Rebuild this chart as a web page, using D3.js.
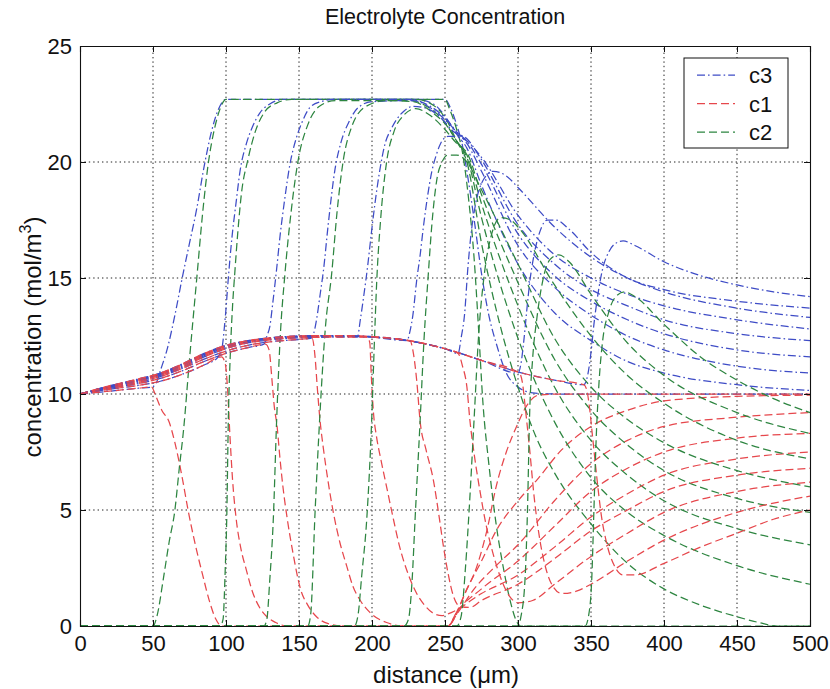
<!DOCTYPE html>
<html>
<head>
<meta charset="utf-8">
<script src="https://cdn.jsdelivr.net/npm/d3@7"></script>
<style>
  body { margin: 0; background: #fff; }
  svg { display: block; }
  text { font-family: "Liberation Sans", Arial, Helvetica, sans-serif; fill: #111; }
</style>
</head>
<body>
<svg id="chart" width="830" height="689"></svg>
<script>
// Axis ticks
const xTicks = [0, 50, 100, 150, 200, 250, 300, 350, 400, 450, 500];
const yTicks = [0, 5, 10, 15, 20, 25];

// Legend order (as plotted)
const seriesNames = ["c3", "c1", "c2"];

// c3 profiles, one per time snapshot: [distance (um), concentration (mol/m^3)]
const c3 = [
  [[0,10],[20,10.12],[40,10.25],[49,10.3],[52,10.45],[55,11],[60,12],[65,13.4],[70,15],[75,16.5],[80,18],[85,19.8],[90,21.3],[95,22.3],[100,22.7],[250,22.7],[254,22.3],[258,21.6],[262,20.7],[266,19.2],[270,17.5],[275,15.2],[280,13.4],[285,12.2],[292,10.9],[300,10.3],[310,10.05],[325,10],[500,10]],
  [[0,10],[20,10.2],[40,10.37],[55,10.55],[70,10.85],[85,11.25],[94,11.55],[97,11.9],[99.5,13.3],[101.6,15.0],[104,16.7],[107,18.3],[109.6,19.6],[114,20.8],[118,21.5],[123,22.1],[130,22.5],[140,22.7],[230,22.7],[242,22.5],[252,21.8],[258,21.2],[265,20.6],[275,19.0],[300,15.6],[325,13.5],[350,12.3],[375,11.4],[400,10.9],[450,10.4],[500,10.15]],
  [[0,10],[20,10.24],[40,10.45],[55,10.67],[70,11.0],[85,11.4],[100,11.75],[115,12.0],[126,12.15],[128,12.5],[130,12.9],[132,13.9],[134.7,15.4],[137,16.8],[140,18.3],[143.8,19.9],[148,21.0],[152,21.7],[157.5,22.35],[165,22.6],[175,22.7],[225,22.7],[240,22.4],[250,21.9],[258,21.3],[265,20.8],[275,19.6],[300,16.4],[325,14.6],[350,13.4],[375,12.5],[400,11.9],[450,11.2],[500,10.9]],
  [[0,10],[20,10.27],[40,10.5],[55,10.75],[70,11.1],[85,11.5],[100,11.85],[115,12.1],[130,12.25],[150,12.35],[158,12.4],[160,12.6],[162,13.2],[164.5,14.3],[166.7,15.3],[170,17.3],[174.7,19.7],[179,20.9],[184,21.7],[190.6,22.35],[200,22.6],[228,22.65],[242,22.25],[252,21.7],[258,21.3],[265,20.9],[275,19.9],[300,16.9],[325,15.1],[350,14.0],[375,13.2],[400,12.6],[450,11.9],[500,11.6]],
  [[0,10],[20,10.29],[40,10.55],[55,10.8],[70,11.15],[85,11.6],[100,11.95],[115,12.2],[130,12.33],[150,12.42],[175,12.45],[190,12.45],[192,13.2],[194.5,14.3],[197,15.5],[199.5,16.9],[202,18.2],[205.5,19.7],[209,20.8],[213,21.4],[217,21.85],[222,22.2],[228,22.4],[238,22.3],[248,21.85],[256,21.3],[265,21.0],[275,20.1],[300,17.3],[325,15.6],[350,14.5],[375,13.8],[400,13.2],[450,12.6],[500,12.3]],
  [[0,10],[20,10.31],[40,10.58],[55,10.84],[70,11.2],[85,11.65],[100,12.0],[115,12.23],[130,12.37],[150,12.46],[175,12.5],[200,12.45],[224,12.3],[226,12.7],[228,13.4],[230.6,14.9],[233,16.0],[235,17.1],[238,18.5],[241,19.6],[244,20.3],[247,20.8],[252,21.1],[258,21.1],[265,20.9],[275,20.2],[300,17.7],[325,16.0],[350,15.0],[375,14.3],[400,13.8],[450,13.2],[500,12.8]],
  [[0,10],[20,10.33],[40,10.61],[55,10.87],[70,11.25],[85,11.7],[100,12.05],[115,12.27],[130,12.4],[150,12.48],[175,12.5],[200,12.45],[225,12.3],[250,11.95],[259,11.75],[261,12.4],[263.5,13.5],[265.5,15.3],[267.5,16.7],[271,18.2],[276,19.2],[283,19.6],[292,19.4],[300,18.9],[325,17.2],[350,15.9],[375,15.0],[400,14.4],[450,13.7],[500,13.3]],
  [[0,10],[20,10.34],[40,10.63],[55,10.89],[70,11.28],[85,11.72],[100,12.08],[115,12.29],[130,12.41],[150,12.5],[175,12.52],[200,12.47],[225,12.3],[250,11.95],[275,11.45],[300,10.9],[302,11.3],[304,12.3],[306,13.6],[308,14.8],[311,16.0],[315,17.0],[320,17.5],[326,17.5],[335,17.1],[350,16.1],[375,15.0],[400,14.5],[450,14.0],[500,13.7]],
  [[0,10],[20,10.35],[40,10.65],[55,10.9],[70,11.3],[85,11.75],[100,12.1],[115,12.3],[130,12.42],[150,12.5],[175,12.52],[200,12.47],[225,12.3],[250,11.95],[275,11.45],[300,10.95],[325,10.6],[345,10.4],[348,10.9],[350,11.8],[352,13.0],[355,14.4],[358,15.4],[362,16.1],[367,16.5],[372,16.6],[380,16.4],[400,15.7],[425,15.1],[450,14.7],[475,14.4],[500,14.2]]
];

// c1 profiles
const c1 = [
  [[0,10],[20,10.12],[40,10.25],[49,10.3],[52,9.9],[56,9.3],[61,8.8],[65,7.9],[70,6.4],[74,5.0],[79,3.5],[84,2.2],[89,1.0],[93,0.3],[97,0],[252,0],[257,0.4],[263,1.3],[272,2.6],[279,4.2],[285,6.0],[292,7.5],[299,8.6],[306,9.5],[314,9.95],[330,10],[500,10]],
  [[0,10],[20,10.2],[40,10.37],[55,10.55],[70,10.85],[85,11.25],[97,11.6],[99.5,11.3],[101,10.3],[102.7,8.2],[104.5,6.3],[107,4.6],[110,3.4],[114,2.4],[118,1.5],[123,0.8],[128,0.4],[134,0.15],[142,0],[252,0],[258,0.6],[265,1.6],[275,2.8],[285,4.1],[300,5.4],[313,6.3],[330,7.6],[350,8.6],[375,9.3],[400,9.7],[450,9.9],[500,9.95]],
  [[0,10],[20,10.24],[40,10.45],[55,10.67],[70,11.0],[85,11.4],[100,11.75],[115,12.0],[127,12.15],[129.5,11.9],[131.5,10.6],[133,9.5],[135,8.6],[137,7.2],[139,6.0],[142,4.6],[146,3.1],[151,1.6],[156,0.9],[162,0.4],[170,0.1],[180,0],[252,0],[258,0.5],[270,1.6],[285,2.6],[300,3.5],[325,5.4],[350,7.0],[375,8.0],[400,8.6],[450,9.0],[500,9.2]],
  [[0,10],[20,10.27],[40,10.5],[55,10.75],[70,11.1],[85,11.5],[100,11.85],[115,12.1],[130,12.25],[150,12.35],[159,12.4],[161,11.6],[162.5,10.3],[164.5,8.8],[166.6,7.7],[170,6.2],[173.5,4.9],[178,3.6],[182.6,2.6],[187,1.7],[192,1.1],[200,0.5],[210,0.15],[222,0],[252,0],[258,0.6],[275,1.6],[300,2.8],[325,4.3],[350,5.8],[375,6.8],[400,7.5],[450,8.1],[500,8.3]],
  [[0,10],[20,10.29],[40,10.55],[55,10.8],[70,11.15],[85,11.6],[100,11.95],[115,12.2],[130,12.33],[150,12.42],[175,12.45],[197,12.45],[198.5,12.2],[199.5,10.8],[201,9.2],[203,8.2],[206,7.2],[210,6.0],[214,4.8],[219,3.4],[225,2.2],[230.6,1.4],[236,0.9],[242,0.55],[248,0.45],[255,0.6],[275,1.4],[300,2.2],[325,3.4],[350,4.7],[375,5.7],[400,6.5],[450,7.2],[500,7.5]],
  [[0,10],[20,10.31],[40,10.58],[55,10.84],[70,11.2],[85,11.65],[100,12.0],[115,12.23],[130,12.37],[150,12.46],[175,12.5],[200,12.45],[226,12.3],[228.5,11.7],[230.6,10.6],[233,8.8],[237,7.6],[242,6.3],[246,4.7],[249,3.4],[252,2.3],[255.7,1.3],[260,0.85],[267,0.8],[275,1.1],[300,1.8],[325,2.9],[350,4.1],[375,5.0],[400,5.8],[450,6.5],[500,6.8]],
  [[0,10],[20,10.33],[40,10.61],[55,10.87],[70,11.25],[85,11.7],[100,12.05],[115,12.27],[130,12.4],[150,12.48],[175,12.5],[200,12.45],[225,12.3],[250,11.95],[259,11.75],[262,11.2],[265,10.3],[267,8.9],[270,7.4],[274,5.8],[278,4.4],[283,3.1],[288,2.1],[294,1.3],[300,1.0],[310,1.1],[325,1.8],[350,3.0],[375,4.0],[400,4.9],[450,5.8],[500,6.2]],
  [[0,10],[20,10.34],[40,10.63],[55,10.89],[70,11.28],[85,11.72],[100,12.08],[115,12.29],[130,12.41],[150,12.5],[175,12.52],[200,12.47],[225,12.3],[250,11.95],[275,11.45],[301,10.9],[303,10.5],[305,9.4],[308,7.6],[311,5.6],[315,3.7],[319,2.5],[324,1.7],[330,1.4],[340,1.5],[350,1.8],[375,2.8],[400,3.7],[450,4.9],[500,5.6]],
  [[0,10],[20,10.35],[40,10.65],[55,10.9],[70,11.3],[85,11.75],[100,12.1],[115,12.3],[130,12.42],[150,12.5],[175,12.52],[200,12.47],[225,12.3],[250,11.95],[275,11.45],[300,10.95],[325,10.6],[345,10.4],[347,10.2],[349,9.4],[351,8.2],[354,6.4],[357,4.8],[361,3.5],[366,2.6],[372,2.2],[380,2.2],[400,2.7],[425,3.4],[450,4.0],[475,4.6],[500,5.0]]
];

// c2 profiles
const c2 = [
  [[0,0],[50,0],[53,0.5],[57,2],[61,3.6],[65,5],[68,6.8],[71,8.5],[75,11.5],[80,15],[84,17.8],[88,20],[92,21.4],[96,22.3],[100,22.7],[250,22.7],[253,22.3],[258,21.4],[262,20.4],[266,18.5],[270,15.8],[273,12.8],[276,9.6],[280,7.0],[285,4.4],[290,2.5],[295,1.0],[299,0.2],[302,0],[500,0]],
  [[0,0],[96,0],[98,0.3],[99.5,2.5],[100.5,4.6],[101.6,8.9],[103,11.8],[104.5,13.8],[106,15.2],[108,16.9],[110.5,18.6],[115,20.1],[120,21.3],[127,22.2],[135,22.55],[145,22.7],[230,22.7],[242,22.45],[252,21.7],[258,20.9],[265,20.0],[275,16.5],[288,12.9],[300,10.3],[312,8.2],[325,6.6],[350,4.4],[375,2.7],[400,1.6],[425,0.9],[450,0.4],[465,0.15],[478,0],[500,0]],
  [[0,0],[126,0],[128,0.3],[130,2],[132.4,4.6],[134.7,8.9],[137,12.3],[140.4,15.2],[144.5,17.8],[149.5,20.1],[156,21.6],[164,22.4],[175,22.65],[225,22.65],[240,22.3],[250,21.7],[258,20.9],[265,20.2],[275,17.6],[300,12.4],[325,8.8],[350,6.4],[375,4.9],[400,3.9],[450,2.6],[500,1.8]],
  [[0,0],[156,0],[158,0.5],[161,4.9],[164.4,9.2],[168,12.8],[172.4,15.2],[176,17.8],[180.4,20.1],[186,21.5],[196,22.4],[210,22.65],[228,22.6],[242,22.1],[252,21.5],[258,20.9],[265,20.3],[275,18.2],[300,13.8],[325,10.3],[350,8.0],[375,6.5],[400,5.4],[450,4.2],[500,3.5]],
  [[0,0],[188,0],[190.5,0.5],[193,2.2],[196.4,4.6],[199.8,8.9],[201.5,12],[203.2,14.8],[206,17.6],[210,20.0],[215,21.3],[221.5,22.0],[230,22.3],[240,22.0],[250,21.4],[258,20.8],[265,20.4],[275,18.6],[300,14.8],[325,11.5],[350,9.3],[375,7.8],[400,6.7],[450,5.5],[500,4.9]],
  [[0,0],[222,0],[225,0.3],[227.5,2],[229.5,4.6],[233,8.9],[235.5,12.2],[238.6,15.2],[241,17.3],[244.3,19.2],[248,20.0],[252,20.3],[258,20.3],[265,20.0],[275,18.8],[300,15.6],[325,12.4],[350,10.3],[375,8.9],[400,7.9],[450,6.7],[500,6.0]],
  [[0,0],[258,0],[261,0.4],[264,2.5],[267,5.5],[270,9],[273,12.5],[277,15.2],[282,16.9],[288,17.6],[295,17.5],[300,17.2],[325,14.7],[350,12.5],[375,10.8],[400,9.6],[450,8.0],[500,7.2]],
  [[0,0],[300,0],[302,0.4],[304.8,2],[306.5,5],[308,9.2],[310,11.5],[313,13.3],[317,14.9],[322,15.8],[328,16.0],[335,15.7],[350,14.3],[375,12.2],[400,10.8],[450,9.2],[500,8.3]],
  [[0,0],[346,0],[348.5,0.5],[350.5,2],[352,5],[353.5,8],[355.5,10.5],[358,12.3],[362,13.5],[367,14.2],[373,14.4],[380,14.2],[400,13.0],[425,11.6],[450,10.6],[475,9.8],[500,9.2]]
];

// ---- drawing ----
const svg = d3.select("#chart");
const W = 830, H = 689;
const margin = { top: 46, right: 20, bottom: 63, left: 80 };

const x = d3.scaleLinear().domain([0, 500]).range([margin.left, W - margin.right]);
const y = d3.scaleLinear().domain([0, 25]).range([H - margin.bottom, margin.top]);

const style = {
  c3: { color: "#3e4cc6", dash: "8,3,1.6,3" },
  c1: { color: "#e6474c", dash: "8,4" },
  c2: { color: "#2d8540", dash: "8,4" }
};
const profiles = { c3: c3, c1: c1, c2: c2 };

svg.append("rect").attr("width", W).attr("height", H).attr("fill", "#fff");

// dotted grid
const grid = svg.append("g").attr("stroke", "#222").attr("stroke-width", 1)
  .attr("stroke-dasharray", "1.4,3");
grid.selectAll(".gx").data(xTicks.slice(1, -1)).join("line")
  .attr("x1", d => x(d)).attr("x2", d => x(d))
  .attr("y1", y(0)).attr("y2", y(25));
grid.selectAll(".gy").data(yTicks.slice(1, -1)).join("line")
  .attr("x1", x(0)).attr("x2", x(500))
  .attr("y1", d => y(d)).attr("y2", d => y(d));

// curves: for each snapshot, c3 then c1 then c2
const line = d3.line().x(d => x(d[0])).y(d => y(d[1])).curve(d3.curveMonotoneX);
const plot = svg.append("g").attr("fill", "none").attr("stroke-width", 1.25);
for (let k = 0; k < c1.length; k++) {
  seriesNames.forEach(name => {
    plot.append("path")
      .attr("d", line(profiles[name][k]))
      .attr("stroke", style[name].color)
      .attr("stroke-dasharray", style[name].dash);
  });
}

// axes with inward ticks on all four sides
const fontSize = 22;
const axB = svg.append("g").attr("transform", `translate(0,${y(0)})`)
  .call(d3.axisBottom(x).tickValues(xTicks).tickFormat(d3.format("d")).tickSize(-6).tickPadding(9));
const axL = svg.append("g").attr("transform", `translate(${x(0)},0)`)
  .call(d3.axisLeft(y).tickValues(yTicks).tickFormat(d3.format("d")).tickSize(-6).tickPadding(8));
const axT = svg.append("g").attr("transform", `translate(0,${y(25)})`)
  .call(d3.axisTop(x).tickValues(xTicks).tickFormat("").tickSize(-6));
const axR = svg.append("g").attr("transform", `translate(${x(500)},0)`)
  .call(d3.axisRight(y).tickValues(yTicks).tickFormat("").tickSize(-6));
[axB, axL, axT, axR].forEach(g => {
  g.select(".domain").attr("stroke", "#111").attr("stroke-width", 1.1);
  g.selectAll(".tick line").attr("stroke", "#111");
  g.selectAll("text").attr("font-size", fontSize).attr("fill", "#111")
    .attr("font-family", "'Liberation Sans', Arial, sans-serif");
});

// title and axis labels
svg.append("text").attr("x", 445).attr("y", 24).attr("text-anchor", "middle")
  .attr("font-size", 21.5).text("Electrolyte Concentration");
const xl = svg.append("text").attr("x", 446).attr("y", 683).attr("text-anchor", "middle")
  .attr("font-size", 24);
xl.append("tspan").text("distance (");
xl.append("tspan").text("\u03bc");
xl.append("tspan").text("m)");
const yl = svg.append("text").attr("transform", "translate(41,337) rotate(-90)")
  .attr("text-anchor", "middle").attr("font-size", 24);
yl.append("tspan").text("concentration (mol/m");
yl.append("tspan").attr("font-size", 16).attr("dy", -10).text("3");
yl.append("tspan").attr("dy", 10).text(")");

// legend
const lg = svg.append("g");
lg.append("rect").attr("x", 684).attr("y", 58).attr("width", 104).attr("height", 90)
  .attr("fill", "#fff").attr("stroke", "#111").attr("stroke-width", 1);
seriesNames.forEach((name, i) => {
  const yy = 75 + i * 28.5;
  lg.append("line").attr("x1", 697).attr("x2", 735).attr("y1", yy).attr("y2", yy)
    .attr("stroke", style[name].color).attr("stroke-width", 1.25)
    .attr("stroke-dasharray", style[name].dash);
  lg.append("text").attr("x", 749).attr("y", yy + 8).attr("font-size", 22).text(name);
});
</script>
</body>
</html>
